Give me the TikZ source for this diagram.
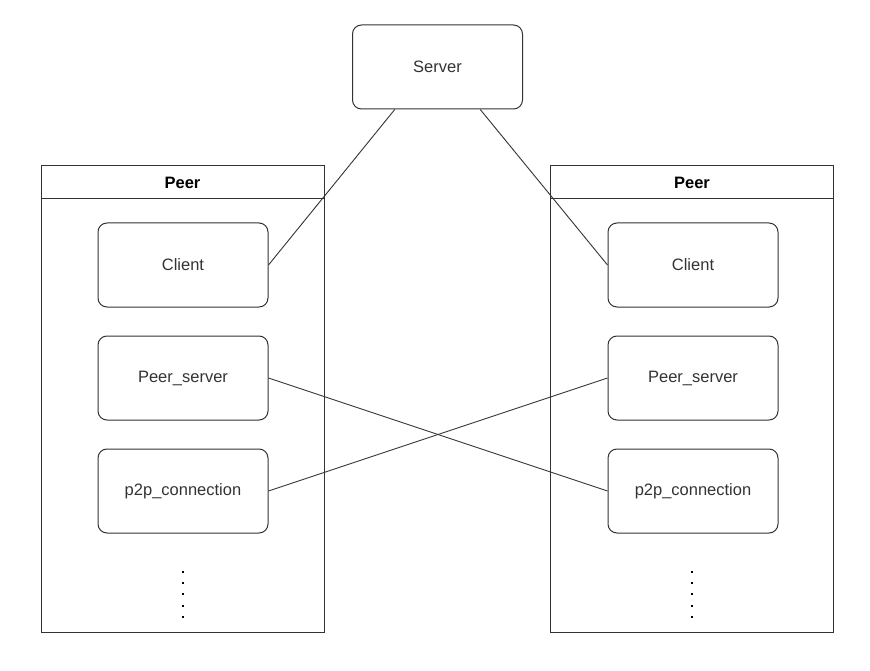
\documentclass[tikz,border=0pt]{standalone}
\usepackage{fontspec}
\setmainfont{Liberation Sans}
\usetikzlibrary{calc}
\definecolor{ink}{HTML}{333333}
\begin{document}
\begin{tikzpicture}[x=1pt,y=-1pt,
  every node/.style={font=\fontsize{16.5}{19}\selectfont, text=ink},
  roundbox/.style={draw=ink, line width=1pt, rounded corners=9pt, minimum width=170pt, minimum height=84pt, inner sep=0pt},
  peerframe/.style={draw=ink, line width=1pt, minimum width=283pt, minimum height=466pt, inner sep=0pt},
  header/.style={font=\fontsize{16.5}{19}\selectfont\bfseries, text=black},
  link/.style={draw=ink, line width=0.9pt},
  dotmark/.style={fill=black, inner sep=0pt, minimum size=2.6pt, rectangle}
]
\useasboundingbox (0,0) rectangle (870,671);

% server
\node[roundbox] (server) at (437.5,67) {Server};

% left peer
\node[peerframe] (lpeer) at (182.5,399) {};
\node[header] (lhead) at (182.5,183) {Peer};
\draw[ink, line width=1pt] (41,199) -- (324,199);
\node[roundbox] (lclient) at (183,265) {Client};
\node[roundbox] (lps) at (183,378) {Peer\_server};
\node[roundbox] (lp2p) at (183,491) {p2p\_connection};
\foreach \k/\yy in {1/572,2/583,3/594,4/606,5/617}
  \node[dotmark] (ld\k) at (183,\yy) {};

% right peer
\node[peerframe] (rpeer) at (692,399) {};
\node[header] (rhead) at (692,183) {Peer};
\draw[ink, line width=1pt] (551,199) -- (833,199);
\node[roundbox] (rclient) at (693,265) {Client};
\node[roundbox] (rps) at (693,378) {Peer\_server};
\node[roundbox] (rp2p) at (693,491) {p2p\_connection};
\foreach \k/\yy in {1/572,2/583,3/594,4/606,5/617}
  \node[dotmark] (rd\k) at (692,\yy) {};

% connections
\coordinate (sl) at ($(server.south west)!0.25!(server.south east)$);
\coordinate (sr) at ($(server.south west)!0.75!(server.south east)$);
\draw[link] (sl) -- (lclient.east);
\draw[link] (sr) -- (rclient.west);
\draw[link] (lps.east) -- (rp2p.west);
\draw[link] (lp2p.east) -- (rps.west);
\end{tikzpicture}
\end{document}
